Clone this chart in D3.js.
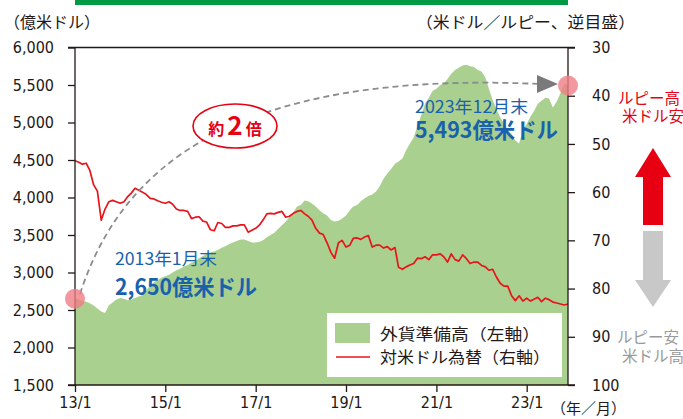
<!DOCTYPE html>
<html>
<head>
<meta charset="utf-8">
<script src="https://cdn.jsdelivr.net/npm/d3@7"></script>
<style>
  body { margin: 0; background: #fff; }
  svg { display: block; }
  .axis text { font-family: "Liberation Sans Narrow", "DejaVu Sans Condensed", sans-serif; font-size: 16px; fill: #231815; }
  .axis path, .axis line { stroke: #231815; stroke-width: 1.3; }
  .jp { font-family: "Noto Sans CJK JP", sans-serif; }
</style>
</head>
<body>
<svg width="683" height="419"></svg>
<script>
// foreign currency reserves, 100 million USD, monthly Jan 2013 - Dec 2023
var reserves = [
  2650, 2640, 2620, 2610, 2590, 2560, 2520, 2480, 2460, 2560, 2600, 2640,
  2660, 2650, 2630, 2640, 2660, 2680, 2700, 2760, 2830, 2870, 2900, 2930,
  2950, 2970, 3000, 3030, 3050, 3080, 3100, 3130, 3150, 3190, 3220, 3250,
  3270, 3280, 3300, 3330, 3350, 3380, 3400, 3420, 3440, 3440, 3420, 3400,
  3400, 3410, 3430, 3470, 3500, 3530, 3580, 3630, 3680, 3740, 3800, 3880,
  3900, 3960, 3950, 3920, 3880, 3830, 3790, 3760, 3700, 3680, 3690, 3720,
  3760, 3830, 3880, 3900, 3950, 3990, 4020, 4040, 4080, 4150, 4250, 4320,
  4380, 4450, 4480, 4520, 4630, 4720, 4800, 4950, 5100, 5250, 5330, 5420,
  5450, 5500, 5520, 5580, 5650, 5700, 5730, 5760, 5770, 5750, 5740, 5700,
  5680, 5600, 5450, 5300, 5180, 5070, 4980, 4900, 4850, 4760, 4720, 4900,
  4980, 5080, 5150, 5250, 5290, 5330, 5320, 5200, 5280, 5390, 5520, 5493
];

// USD/INR, monthly
var usdInr = [
  53.5, 53.8, 54.2, 54.0, 55.5, 58.5, 59.8, 65.8, 63.5, 62.0, 61.7, 62.0,
  62.3, 62.0, 61.0, 60.2, 59.2, 59.6, 60.0, 60.5, 61.3, 61.4, 61.8, 62.1,
  62.3, 62.0, 62.5, 63.5, 63.8, 63.8, 64.0, 65.5, 65.2, 65.1, 66.0, 66.2,
  67.8, 68.0, 66.3, 66.5, 67.3, 67.3, 67.0, 67.0, 66.8, 66.8, 68.3, 67.9,
  67.5, 66.8, 65.8, 64.5, 64.4, 64.5, 64.2, 64.0, 65.2, 65.0, 64.4, 64.0,
  63.8, 64.5, 65.0, 65.8, 67.5, 68.5, 68.8, 70.5, 72.5, 73.7, 70.5, 70.0,
  71.4, 71.0, 69.6, 69.5, 69.8, 69.3, 69.0, 71.4, 71.0, 71.0, 71.6, 71.3,
  72.0, 71.5, 75.6, 76.0, 75.5, 75.1, 74.8, 73.7, 73.8, 73.4, 74.0, 73.0,
  73.0, 72.8, 73.4, 74.5, 72.8, 74.0, 74.3, 73.0, 73.8, 74.8, 74.5, 74.5,
  75.2, 75.5, 76.2, 76.0, 77.6, 78.9, 79.5, 79.5, 81.5, 82.5, 81.5, 82.6,
  82.0, 82.6, 82.2, 81.8, 82.7, 82.0, 82.3, 82.8, 83.0, 83.2, 83.4, 83.2
];

var leftTicks = [1500, 2000, 2500, 3000, 3500, 4000, 4500, 5000, 5500, 6000];
var rightTicks = [30, 40, 50, 60, 70, 80, 90, 100];
var xTickYears = [2013, 2015, 2017, 2019, 2021, 2023];
var xTickLabels = ["13/1", "15/1", "17/1", "19/1", "21/1", "23/1"];

var months = d3.timeMonth.range(new Date(2013, 0, 1), new Date(2024, 0, 1));

var svg = d3.select("svg");

var plotLeft = 75, plotRight = 568, plotTop = 47.5, plotBottom = 385;

var x = d3.scaleTime()
    .domain([months[0], months[months.length - 1]])
    .range([plotLeft, plotRight]);

var yL = d3.scaleLinear().domain([1500, 6000]).range([plotBottom, plotTop]);
// inverted scale: 30 at top
var yR = d3.scaleLinear().domain([30, 100]).range([plotTop, plotBottom]);

var red = "#e60012";

// green bar at top
svg.append("rect")
    .attr("x", plotLeft).attr("y", 0)
    .attr("width", plotRight - plotLeft).attr("height", 5)
    .attr("fill", "#009a44");

// titles
svg.append("text").attr("class", "jp")
    .attr("x", 4).attr("y", 28)
    .attr("font-size", 16).attr("fill", "#231815")
    .text("（億米ドル）");

svg.append("text").attr("class", "jp")
    .attr("x", 416).attr("y", 28)
    .attr("font-size", 16).attr("fill", "#231815")
    .attr("textLength", 219).attr("lengthAdjust", "spacingAndGlyphs")
    .text("（米ドル／ルピー、逆目盛）");

// reserves area
var area = d3.area()
    .x(function(d, i) { return x(months[i]); })
    .y0(yL(1500))
    .y1(function(d) { return yL(d); });

svg.append("path")
    .datum(reserves)
    .attr("d", area)
    .attr("fill", "#a9d08e");

// rate line
var line = d3.line()
    .x(function(d, i) { return x(months[i]); })
    .y(function(d) { return yR(d); });

svg.append("path")
    .datum(usdInr)
    .attr("d", line)
    .attr("fill", "none")
    .attr("stroke", "#e8141c")
    .attr("stroke-width", 1.7)
    .attr("stroke-linejoin", "round");

// frame top
svg.append("line")
    .attr("x1", plotLeft - 7).attr("x2", plotRight + 7)
    .attr("y1", plotTop).attr("y2", plotTop)
    .attr("stroke", "#231815").attr("stroke-width", 1.3);

// axes
svg.append("g")
    .attr("class", "axis")
    .attr("transform", "translate(" + plotLeft + ",0)")
    .call(d3.axisLeft(yL).tickValues(leftTicks).tickFormat(d3.format(",")).tickSize(7).tickPadding(14))
    .call(function(g) { g.select(".domain").attr("d", "M0," + plotTop + "V" + plotBottom); });

svg.append("g")
    .attr("class", "axis")
    .attr("transform", "translate(" + plotRight + ",0)")
    .call(d3.axisRight(yR).tickValues(rightTicks).tickSize(7).tickPadding(17))
    .call(function(g) { g.select(".domain").attr("d", "M0," + plotTop + "V" + plotBottom); });

svg.append("g")
    .attr("class", "axis")
    .attr("transform", "translate(0," + plotBottom + ")")
    .call(d3.axisBottom(x)
        .tickValues(xTickYears.map(function(y) { return new Date(y, 0, 1); }))
        .tickFormat(function(d, i) { return xTickLabels[i]; })
        .tickSize(7).tickPadding(5))
    .call(function(g) { g.select(".domain").attr("d", "M" + (plotLeft - 7) + ",0H" + (plotRight + 7)); });

svg.append("text").attr("class", "jp")
    .attr("x", 551).attr("y", 414)
    .attr("font-size", 15).attr("fill", "#231815")
    .text("（年／月）");

// dashed arc, 2013 -> 2023
svg.append("path")
    .attr("d", "M80,294 C120,170 230,70 540,84")
    .attr("fill", "none")
    .attr("stroke", "#8c8c8c")
    .attr("stroke-width", 1.8)
    .attr("stroke-dasharray", "6,4");

svg.append("path")
    .attr("d", "M537,75 L558,84 L537,93 Z")
    .attr("fill", "#7a7a7a");

// start / end markers
svg.selectAll(".mark")
    .data([0, reserves.length - 1])
    .enter().append("circle")
    .attr("class", "mark")
    .attr("cx", function(i) { return x(months[i]); })
    .attr("cy", function(i) { return yL(reserves[i]); })
    .attr("r", 10)
    .attr("fill", "#ef7d86")
    .attr("fill-opacity", 0.8);

// about 2x bubble
svg.append("ellipse")
    .attr("cx", 235).attr("cy", 126).attr("rx", 42).attr("ry", 22)
    .attr("fill", "#fff").attr("stroke", red).attr("stroke-width", 1.6);

var bubble = svg.append("text").attr("class", "jp")
    .attr("x", 235).attr("y", 135)
    .attr("text-anchor", "middle")
    .attr("fill", red).attr("font-weight", "bold");
bubble.append("tspan").attr("font-size", 16).text("約");
bubble.append("tspan").attr("font-size", 26).attr("dx", 3).text("2");
bubble.append("tspan").attr("font-size", 16).attr("dx", 3).text("倍");

// value notes
var blue = "#1a61ad";
svg.append("text").attr("class", "jp")
    .attr("x", 115).attr("y", 265).attr("font-size", 17).attr("fill", blue)
    .attr("textLength", 102).attr("lengthAdjust", "spacingAndGlyphs")
    .text("2013年1月末");
svg.append("text").attr("class", "jp")
    .attr("x", 115).attr("y", 295).attr("font-size", 22).attr("font-weight", "bold").attr("fill", blue)
    .attr("textLength", 142).attr("lengthAdjust", "spacingAndGlyphs")
    .text("2,650億米ドル");
svg.append("text").attr("class", "jp")
    .attr("x", 415).attr("y", 113).attr("font-size", 17).attr("fill", blue)
    .attr("textLength", 113).attr("lengthAdjust", "spacingAndGlyphs")
    .text("2023年12月末");
svg.append("text").attr("class", "jp")
    .attr("x", 415).attr("y", 138).attr("font-size", 22).attr("font-weight", "bold").attr("fill", blue)
    .attr("textLength", 143).attr("lengthAdjust", "spacingAndGlyphs")
    .text("5,493億米ドル");

// legend
svg.append("rect")
    .attr("x", 327).attr("y", 313).attr("width", 235).attr("height", 64)
    .attr("fill", "#fff");
svg.append("rect")
    .attr("x", 335).attr("y", 323).attr("width", 35).attr("height", 20)
    .attr("fill", "#a9d08e");
svg.append("line")
    .attr("x1", 336).attr("x2", 370).attr("y1", 357).attr("y2", 357)
    .attr("stroke", "#e8141c").attr("stroke-width", 1.7);
svg.append("text").attr("class", "jp")
    .attr("x", 380).attr("y", 340).attr("font-size", 16).attr("fill", "#231815")
    .attr("textLength", 160).attr("lengthAdjust", "spacingAndGlyphs")
    .text("外貨準備高（左軸）");
svg.append("text").attr("class", "jp")
    .attr("x", 380).attr("y", 363).attr("font-size", 16).attr("fill", "#231815")
    .attr("textLength", 170).attr("lengthAdjust", "spacingAndGlyphs")
    .text("対米ドル為替（右軸）");

// right side direction notes
svg.append("text").attr("class", "jp")
    .attr("x", 618).attr("y", 104).attr("font-size", 15.5).attr("fill", red)
    .text("ルピー高・");
svg.append("text").attr("class", "jp")
    .attr("x", 622).attr("y", 122).attr("font-size", 15.5).attr("fill", red)
    .text("米ドル安");

svg.append("path")
    .attr("d", "M653,148 L671,177 L663,177 L663,225 L643,225 L643,177 L635,177 Z")
    .attr("fill", red);
svg.append("path")
    .attr("d", "M643,231 L663,231 L663,280 L671,280 L653,307 L635,280 L643,280 Z")
    .attr("fill", "#c8c8c8");

svg.append("text").attr("class", "jp")
    .attr("x", 617).attr("y", 343).attr("font-size", 15.5).attr("fill", "#9a9a9a")
    .text("ルピー安・");
svg.append("text").attr("class", "jp")
    .attr("x", 622).attr("y", 362).attr("font-size", 15.5).attr("fill", "#9a9a9a")
    .text("米ドル高");
</script>
</body>
</html>
